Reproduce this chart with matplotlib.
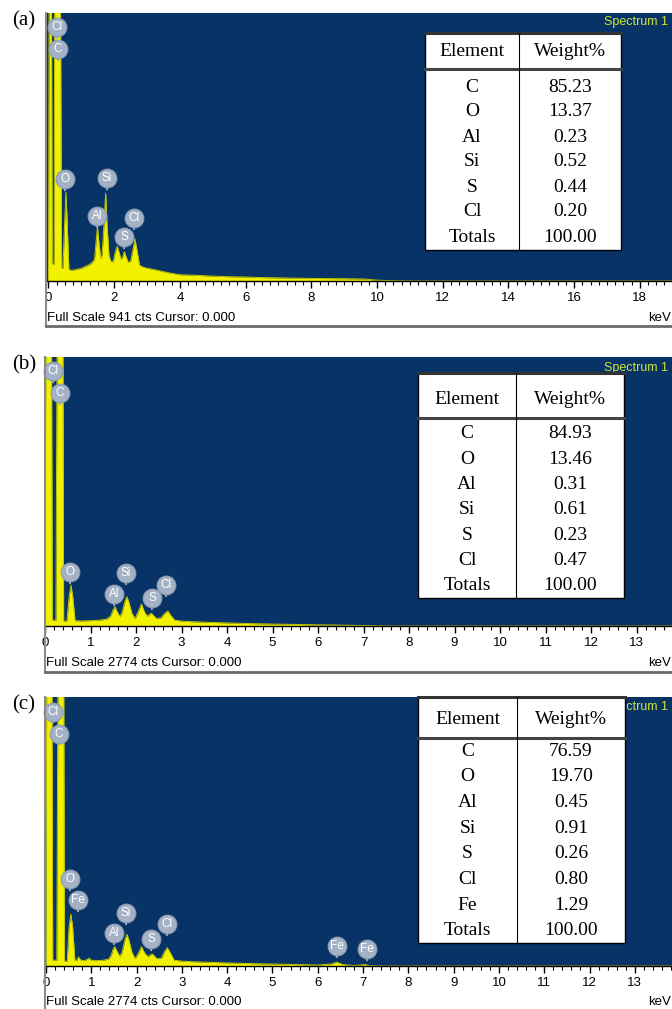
import matplotlib
matplotlib.use("Agg")
import matplotlib.pyplot as plt
from matplotlib.ticker import MultipleLocator
from matplotlib.patches import Rectangle

# --- spectrum data (energy in keV, counts) ---
energy_a = [0.00, 0.02, 0.09, 0.11, 0.17, 0.19, 0.36, 0.40, 0.44, 0.49, 0.53, 0.57, 0.62,
            0.70, 0.80, 0.90, 1.00, 1.10, 1.20, 1.30, 1.40, 1.45, 1.49, 1.53, 1.59, 1.63,
            1.69, 1.74, 1.78, 1.84, 1.90, 1.97, 2.03, 2.09, 2.15, 2.21, 2.26, 2.31, 2.36,
            2.43, 2.50, 2.57, 2.63, 2.69, 2.77, 2.90, 3.00, 3.30, 3.60, 4.00, 4.50, 5.00,
            5.50, 6.00, 6.50, 7.00, 8.00, 9.00, 9.60, 10.00, 10.50, 11.00, 19.00]
counts_a = [0, 1100, 1100, 60, 60, 1100, 1100, 45, 45, 200, 312, 200, 40,
            38, 39, 42, 44, 50, 55, 62, 75, 140, 190, 140, 80, 90,
            200, 308, 200, 90, 68, 68, 100, 122, 100, 75, 85, 103, 85,
            65, 70, 110, 148, 110, 55, 48, 45, 38, 30, 22, 20, 17,
            15, 14, 12, 11, 9, 8, 7, 3, 1, 0, 0]

energy_b = [0.00, 0.02, 0.14, 0.16, 0.24, 0.27, 0.39, 0.41, 0.48, 0.53, 0.57, 0.61, 0.66,
            0.80, 1.00, 1.20, 1.35, 1.44, 1.50, 1.54, 1.58, 1.65, 1.70, 1.76, 1.80, 1.84,
            1.91, 1.98, 2.05, 2.12, 2.18, 2.25, 2.30, 2.34, 2.38, 2.45, 2.55, 2.62, 2.70,
            2.76, 2.85, 3.00, 3.20, 3.60, 4.00, 4.50, 5.00, 5.50, 6.00, 6.50, 7.00, 7.50,
            13.80]
counts_b = [0, 3500, 3500, 60, 60, 3500, 3500, 50, 50, 300, 423, 300, 55,
            52, 55, 60, 70, 100, 170, 199, 150, 95, 150, 260, 302, 250,
            130, 75, 150, 227, 150, 100, 120, 131, 110, 75, 85, 125, 155,
            110, 60, 50, 45, 38, 32, 25, 20, 16, 12, 9, 5, 0,
            0]

energy_c = [0.00, 0.02, 0.13, 0.15, 0.24, 0.27, 0.39, 0.41, 0.47, 0.51, 0.55, 0.59, 0.64,
            0.68, 0.72, 0.77, 0.85, 0.92, 0.95, 0.99, 1.10, 1.25, 1.38, 1.44, 1.49, 1.52,
            1.56, 1.63, 1.68, 1.75, 1.79, 1.83, 1.90, 1.97, 2.04, 2.11, 2.17, 2.25, 2.31,
            2.35, 2.39, 2.45, 2.55, 2.62, 2.68, 2.74, 2.83, 3.00, 3.20, 3.60, 4.00, 4.50,
            5.00, 5.50, 6.00, 6.30, 6.42, 6.55, 6.80, 7.05, 7.15, 7.50, 13.85]
counts_c = [0, 3500, 3500, 60, 60, 3500, 3500, 50, 50, 400, 536, 400, 55,
            60, 93, 60, 55, 70, 82, 60, 55, 58, 70, 110, 180, 199,
            160, 100, 140, 280, 326, 270, 140, 75, 130, 199, 140, 95, 115,
            124, 105, 75, 80, 150, 189, 140, 60, 50, 45, 38, 32, 25,
            20, 15, 10, 20, 40, 15, 5, 15, 3, 0, 0]

# peak labels (symbol, keV, counts at label centre)
labels_a = ["Cl", "C", "O", "Si", "Al", "Cl", "S"]
label_x_a = [0.26, 0.29, 0.50, 1.78, 1.48, 2.60, 2.30]
label_y_a = [891, 814, 358, 361, 228, 221, 154]

labels_b = ["Cl", "C", "O", "Al", "Si", "S", "Cl"]
label_x_b = [0.18, 0.33, 0.55, 1.52, 1.78, 2.35, 2.66]
label_y_b = [2629, 2402, 557, 330, 546, 289, 423]

labels_c = ["Cl", "C", "O", "Fe", "Al", "Si", "S", "Cl", "Fe", "Fe"]
label_x_c = [0.15, 0.29, 0.53, 0.71, 1.50, 1.77, 2.32, 2.67, 6.42, 7.09]
label_y_c = [2623, 2397, 897, 680, 340, 546, 278, 433, 206, 175]

full_scale = [941, 2774, 2774]

# composition tables
elements_ab = ["C", "O", "Al", "Si", "S", "Cl", "Totals"]
weights_a = ["85.23", "13.37", "0.23", "0.52", "0.44", "0.20", "100.00"]
weights_b = ["84.93", "13.46", "0.31", "0.61", "0.23", "0.47", "100.00"]
elements_c = ["C", "O", "Al", "Si", "S", "Cl", "Fe", "Totals"]
weights_c = ["76.59", "19.70", "0.45", "0.91", "0.26", "0.80", "1.29", "100.00"]

W, H = 672, 1009
BLUE = "#073366"
YELLOW = "#f2f200"
BUBBLE = "#a5b2c6"
SANS = "Liberation Sans"
SERIF = "Liberation Serif"


def px_axes(fig, left, top, right, bottom, **kw):
    return fig.add_axes([left / W, 1 - bottom / H, (right - left) / W, (bottom - top) / H], **kw)


def draw_spectrum(ax, energy, counts, xlim, ymax, major, minor, names, lx, ly):
    ax.set_facecolor(BLUE)
    ax.fill_between(energy, counts, color=YELLOW, lw=0, zorder=2)
    ax.plot(energy, counts, color="#c2c400", lw=0.7, zorder=2)
    ax.set_xlim(*xlim)
    ax.set_ylim(0, ymax)
    ax.set_yticks([])
    ax.xaxis.set_major_locator(MultipleLocator(major))
    ax.xaxis.set_minor_locator(MultipleLocator(minor))
    ax.xaxis.set_major_formatter(lambda v, p: f"{v:.0f}")
    ax.tick_params(axis="x", which="major", direction="out", length=5, width=1,
                   labelsize=9.5, pad=3)
    ax.tick_params(axis="x", which="minor", direction="out", length=3, width=0.8)
    for lab in ax.get_xticklabels():
        lab.set_fontfamily(SANS)
    for s in ["left", "top", "right"]:
        ax.spines[s].set_visible(False)
    ax.spines["bottom"].set_linewidth(1.0)
    for name, x, y in zip(names, lx, ly):
        ax.annotate("", xy=(x, y), xytext=(0, -14), textcoords="offset pixels",
                    arrowprops=dict(arrowstyle="-", color=BUBBLE, lw=1.4), zorder=4)
        ax.plot([x], [y], marker="o", ms=13.5, color=BUBBLE, mec="#8c9bb3", mew=0.8,
                zorder=5, clip_on=False)
        ax.text(x, y, name, ha="center", va="center", color="white", fontsize=8.5,
                family=SANS, zorder=6, clip_on=False)


def draw_table(ov, left, top, right, bottom, div, head_line, head_y, row_y0, row_dy,
               names, values):
    ov.add_patch(Rectangle((left, top), right - left, bottom - top, facecolor="white",
                           edgecolor="black", lw=1.0, zorder=3))
    ov.plot([left, right], [top, top], color="#333333", lw=2.2, zorder=4)
    ov.plot([left, right], [head_line, head_line], color="#444444", lw=2.2, zorder=4)
    ov.plot([div, div], [top, bottom], color="black", lw=0.8, zorder=4)
    c1 = (left + div) / 2
    c2 = (div + right) / 2
    ov.text(c1, head_y, "Element", ha="center", va="center", fontsize=14, family=SERIF, zorder=5)
    ov.text(c2, head_y, "Weight%", ha="center", va="center", fontsize=14, family=SERIF, zorder=5)
    for i, (n, v) in enumerate(zip(names, values)):
        y = row_y0 + i * row_dy
        ov.text(c1, y, n, ha="center", va="center", fontsize=14, family=SERIF, zorder=5)
        ov.text(c2, y, v, ha="center", va="center", fontsize=14, family=SERIF, zorder=5)


fig = plt.figure(figsize=(W / 100, H / 100), dpi=100)

ax_a = px_axes(fig, 46, 13, 672, 281)
draw_spectrum(ax_a, energy_a, counts_a, (-0.076, 18.98), full_scale[0], 2, 0.25,
              labels_a, label_x_a, label_y_a)
ax_b = px_axes(fig, 45, 357, 672, 626)
draw_spectrum(ax_b, energy_b, counts_b, (0.0, 13.78), full_scale[1], 1, 0.2,
              labels_b, label_x_b, label_y_b)
ax_c = px_axes(fig, 45, 697, 672, 966)
draw_spectrum(ax_c, energy_c, counts_c, (-0.02, 13.82), full_scale[2], 1, 0.2,
              labels_c, label_x_c, label_y_c)

# overlay in pixel coordinates for frames, captions and tables
ov = fig.add_axes([0, 0, 1, 1], zorder=10)
ov.set_xlim(0, W)
ov.set_ylim(H, 0)
ov.axis("off")
ov.patch.set_alpha(0)

frames = [(46, 13, 326, 318, 22, "(a)", full_scale[0]),
          (45, 357, 672, 663, 368, "(b)", full_scale[1]),
          (45, 697, 1012, 1002, 707, "(c)", full_scale[2])]
for left, top, bottom, cap_y, spec_y, tag, fs in frames:
    ov.plot([left, left], [top, bottom], color="#8a8a8a", lw=1.5, zorder=2)
    ov.plot([left, W], [bottom, bottom], color="#6a6a6a", lw=2.0, zorder=2)
    ov.text(left + 1, cap_y, f"Full Scale {fs} cts Cursor: 0.000", ha="left", va="center",
            fontsize=9.5, family=SANS)
    ov.text(671, cap_y, "keV", ha="right", va="center", fontsize=9.5, family=SANS)
    ov.text(668, spec_y, "Spectrum 1", ha="right", va="center", fontsize=9,
            family=SANS, color="#cfe63c", zorder=1)
    ov.text(12, top + 8, tag, ha="left", va="center", fontsize=15, family=SERIF)

draw_table(ov, 425, 33, 621, 250, 519, 69, 51, 87, 25, elements_ab, weights_a)
draw_table(ov, 418, 373, 624, 598, 516, 418, 399, 434, 25.3, elements_ab, weights_b)
draw_table(ov, 418, 697, 625, 943, 517, 738, 719, 751, 25.7, elements_c, weights_c)

fig.savefig("out.png", dpi=100)
